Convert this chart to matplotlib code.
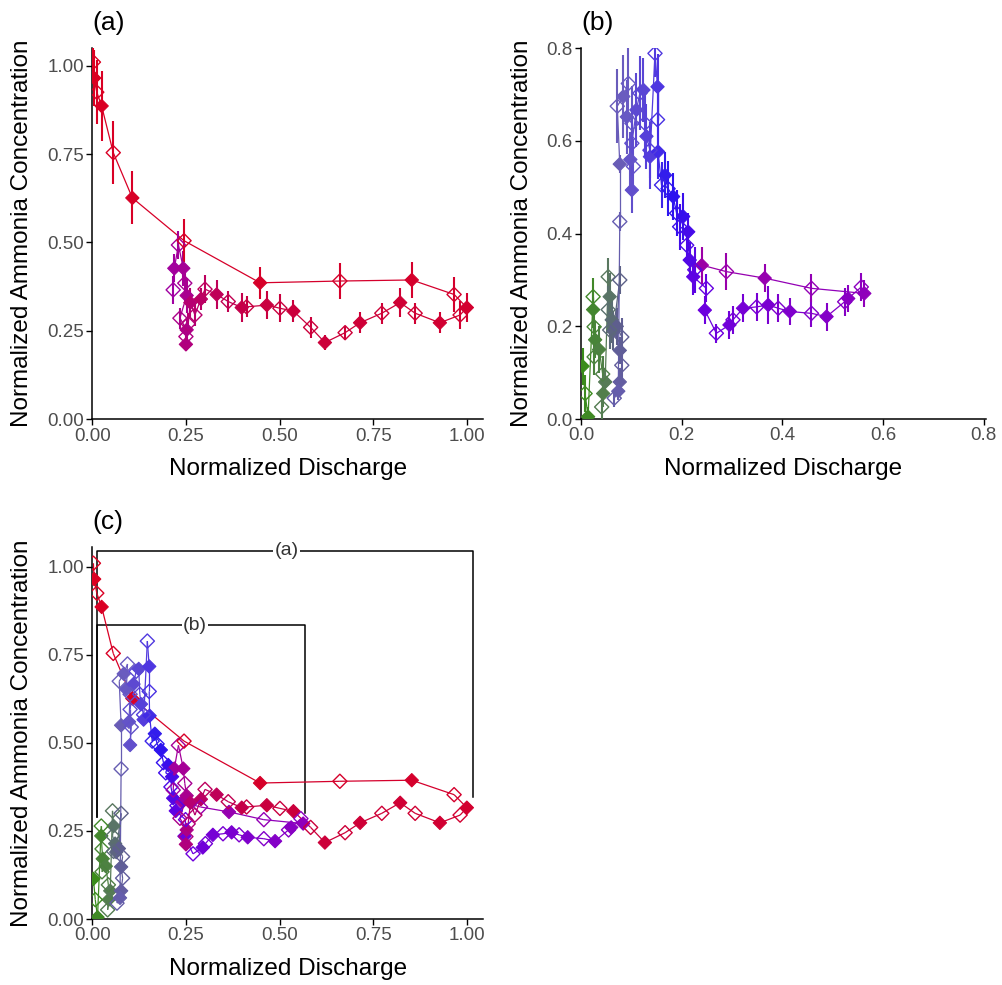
import matplotlib
matplotlib.use('Agg')
import matplotlib.pyplot as plt
import numpy as np
from matplotlib.collections import LineCollection
from matplotlib.colors import LinearSegmentedColormap

plt.rcParams['font.family'] = ['Liberation Sans', 'DejaVu Sans']

# event (b): green start -> slate -> blue -> purple loop
b_x = [0.003, 0.008, 0.014, 0.024, 0.024, 0.026, 0.028, 0.026, 0.036, 0.043, 0.044, 0.041,
       0.048, 0.054, 0.057, 0.054, 0.061, 0.057, 0.064,
       0.077, 0.071, 0.081, 0.077, 0.081, 0.077, 0.066, 0.074,
       0.077, 0.077, 0.072,
       0.084, 0.094, 0.091, 0.101, 0.098, 0.104, 0.101, 0.101, 0.110, 0.117, 0.124, 0.127,
       0.130, 0.137, 0.137, 0.147, 0.152, 0.152, 0.153,
       0.160, 0.167, 0.173, 0.183, 0.190, 0.203, 0.196, 0.213, 0.210, 0.216, 0.226, 0.223,
       0.249, 0.246, 0.269, 0.295, 0.302, 0.322, 0.349, 0.372, 0.392, 0.415, 0.458, 0.488,
       0.524, 0.531, 0.557, 0.563,
       0.458, 0.365, 0.289, 0.240]
b_y = [0.114, 0.055, 0.005, 0.264, 0.236, 0.199, 0.171, 0.134, 0.150, 0.097, 0.055, 0.026,
       0.080, 0.307, 0.264, 0.236, 0.214, 0.192, 0.190,
       0.300, 0.200, 0.177, 0.148, 0.116, 0.080, 0.045, 0.060,
       0.426, 0.550, 0.675,
       0.696, 0.724, 0.652, 0.638, 0.560, 0.545, 0.494, 0.595, 0.667, 0.703, 0.710, 0.638,
       0.610, 0.580, 0.566, 0.789, 0.717, 0.646, 0.577,
       0.505, 0.526, 0.497, 0.480, 0.444, 0.437, 0.415, 0.404, 0.375, 0.343, 0.322, 0.307,
       0.282, 0.235, 0.185, 0.203, 0.214, 0.239, 0.242, 0.246, 0.239, 0.232, 0.228, 0.221,
       0.253, 0.260, 0.285, 0.271,
       0.282, 0.304, 0.318, 0.332]
b_err = [0.04, 0.04, 0.02, 0.04, 0.04, 0.04, 0.04, 0.04, 0.05, 0.04, 0.03, 0.03,
         0.03, 0.04, 0.05, 0.05, 0.05, 0.04, 0.04,
         0.03, 0.04, 0.04, 0.03, 0.03, 0.03, 0.02, 0.02,
         0.02, 0.02, 0.08,
         0.09, 0.08, 0.08, 0.08, 0.06, 0.06, 0.05, 0.07, 0.08, 0.08, 0.07, 0.07,
         0.07, 0.06, 0.07, 0.05, 0.07, 0.07, 0.06,
         0.05, 0.05, 0.06, 0.05, 0.05, 0.05, 0.05, 0.04, 0.04, 0.04, 0.05, 0.04,
         0.03, 0.03, 0.02, 0.03, 0.03, 0.03, 0.03, 0.04, 0.03, 0.03, 0.03, 0.03,
         0.03, 0.03, 0.03, 0.03,
         0.03, 0.03, 0.04, 0.04]

# event (a): magenta cluster -> lower path out to Q=1 -> upper path back
a_x = [0.216, 0.219, 0.230, 0.243, 0.247, 0.252, 0.234, 0.252, 0.250, 0.250, 0.256, 0.262,
       0.274, 0.290, 0.301, 0.332, 0.363, 0.399, 0.412, 0.466, 0.501, 0.537, 0.583, 0.621,
       0.675, 0.715, 0.773, 0.822, 0.862, 0.928, 0.982, 1.000,
       0.966, 0.853, 0.661, 0.448, 0.245, 0.107, 0.056, 0.025, 0.012, 0.005, 0.003]
a_y = [0.366, 0.427, 0.493, 0.427, 0.385, 0.350, 0.286, 0.253, 0.234, 0.212, 0.270, 0.330,
       0.295, 0.340, 0.368, 0.353, 0.333, 0.316, 0.318, 0.323, 0.314, 0.306, 0.260, 0.217,
       0.245, 0.273, 0.300, 0.330, 0.300, 0.273, 0.295, 0.316,
       0.353, 0.394, 0.391, 0.386, 0.505, 0.626, 0.754, 0.886, 0.925, 0.965, 1.010]
a_err = [0.04, 0.04, 0.04, 0.05, 0.05, 0.05, 0.03, 0.03, 0.03, 0.02, 0.03, 0.04,
         0.03, 0.03, 0.04, 0.04, 0.03, 0.04, 0.03, 0.04, 0.04, 0.03, 0.03, 0.02,
         0.02, 0.03, 0.03, 0.04, 0.03, 0.03, 0.04, 0.04,
         0.05, 0.05, 0.05, 0.045, 0.06, 0.075, 0.09, 0.10, 0.09, 0.08, 0.05]

cmap = LinearSegmentedColormap.from_list('trail', [
    (0.00, '#3A8C1A'), (0.10, '#587A5A'), (0.16, '#5E5E8E'), (0.245, '#6A5CC0'),
    (0.37, '#5038E0'), (0.42, '#2A14F0'), (0.50, '#6A00E0'), (0.61, '#8C00C0'),
    (0.66, '#A000A0'), (0.73, '#B00080'), (0.81, '#C80040'), (1.00, '#DC0020')])

n_b, n_a = len(b_x), len(a_x)
all_x = np.array(b_x + a_x)
all_y = np.array(b_y + a_y)
all_err = np.array(b_err + a_err)
cols = cmap(np.linspace(0, 1, n_b + n_a))
filled = np.arange(n_b + n_a) % 2 == 0


def draw(ax, sl, errs):
    x, y, c, f = all_x[sl], all_y[sl], cols[sl], filled[sl]
    pts = np.column_stack([x, y])
    segs = np.stack([pts[:-1], pts[1:]], axis=1)
    ax.add_collection(LineCollection(segs, colors=c[:-1], linewidths=0.9, zorder=2))
    if errs:
        e = all_err[sl]
        ax.vlines(x, y - e, y + e, colors=c, linewidths=1.5, zorder=3)
    ax.scatter(x[f], y[f], marker='D', s=46, c=c[f], edgecolors=c[f], linewidths=0.8, zorder=4)
    ax.scatter(x[~f], y[~f], marker='D', s=52, facecolors='none', edgecolors=c[~f],
               linewidths=1.0, zorder=4)


def style(ax, xt, xl, yt, yl, xlim, ylim, lx):
    ax.set_xlim(*xlim)
    ax.set_ylim(*ylim)
    ax.set_xticks(xt, xl)
    ax.set_yticks(yt, yl)
    for s in ['top', 'right']:
        ax.spines[s].set_visible(False)
    for s in ['left', 'bottom']:
        ax.spines[s].set_linewidth(1.1)
    ax.tick_params(length=4, width=1.0, labelsize=13.5, labelcolor='#4D4D4D', pad=2)
    ax.set_xlabel('Normalized Discharge', fontsize=17.5, va='center')
    ax.set_ylabel('Normalized Ammonia Concentration', fontsize=17.5, va='center')
    ax.xaxis.set_label_coords(0.5, -0.134)
    ax.yaxis.set_label_coords(lx, 0.5)


fig = plt.figure(figsize=(10.03, 9.85), dpi=100)
ax_a = fig.add_axes([0.092, 0.5743, 0.3895, 0.377])
ax_b = fig.add_axes([0.5793, 0.5746, 0.4038, 0.3764])
ax_c = fig.add_axes([0.092, 0.067, 0.3895, 0.378])

t4 = [0, 0.25, 0.5, 0.75, 1.0]
l4 = ['0.00', '0.25', '0.50', '0.75', '1.00']
t8 = [0, 0.2, 0.4, 0.6, 0.8]
l8 = ['0.0', '0.2', '0.4', '0.6', '0.8']

draw(ax_a, slice(n_b, n_b + n_a), True)
style(ax_a, t4, l4, t4, l4, (0, 1.043), (0, 1.05), -0.18)

draw(ax_b, slice(0, n_b), True)
style(ax_b, t8, l8, t8, l8, (0, 0.805), (0, 0.80), -0.146)

draw(ax_c, slice(0, n_b + n_a), False)
style(ax_c, t4, l4, t4, l4, (0, 1.043), (0, 1.057), -0.18)

# brackets marking the extent of each event
ax_c.plot([0.012, 0.012, 1.017, 1.017], [0.29, 1.045, 1.045, 0.347], color='black', lw=1.1, zorder=1)
ax_c.plot([0.012, 0.012, 0.568, 0.568], [0.29, 0.834, 0.834, 0.30], color='black', lw=1.1, zorder=1)
ax_c.text(0.519, 1.045, '(a)', ha='center', va='center', fontsize=14, color='#333333',
          bbox=dict(facecolor='white', edgecolor='none', pad=1), zorder=5)
ax_c.text(0.274, 0.834, '(b)', ha='center', va='center', fontsize=14, color='#333333',
          bbox=dict(facecolor='white', edgecolor='none', pad=1), zorder=5)

for ax, tag in [(ax_a, '(a)'), (ax_b, '(b)'), (ax_c, '(c)')]:
    ax.text(0.0, 1.035, tag, transform=ax.transAxes, fontsize=19, ha='left', va='bottom')

fig.savefig('out.png', dpi=100)
